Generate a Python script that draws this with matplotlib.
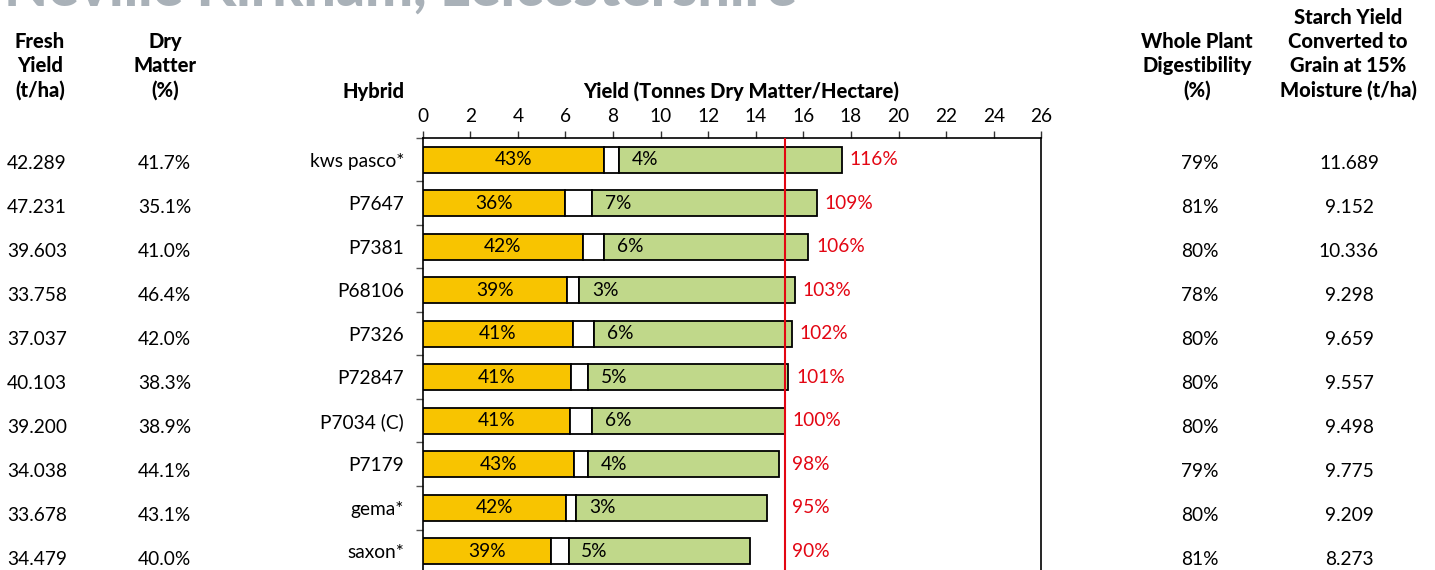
import matplotlib.pyplot as plt
import matplotlib.transforms as mtransforms

plt.rcParams['font.family'] = ['Lato', 'DejaVu Sans']

hybrids = ["kws pasco*", "P7647", "P7381", "P68106", "P7326",
           "P72847", "P7034 (C)", "P7179", "gema*", "saxon*"]
fresh_yield = ["42.289", "47.231", "39.603", "33.758", "37.037",
               "40.103", "39.200", "34.038", "33.678", "34.479"]
dry_matter = ["41.7%", "35.1%", "41.0%", "46.4%", "42.0%",
              "38.3%", "38.9%", "44.1%", "43.1%", "40.0%"]
digestibility = ["79%", "81%", "80%", "78%", "80%", "80%", "80%", "79%", "80%", "81%"]
starch_grain = ["11.689", "9.152", "10.336", "9.298", "9.659",
                "9.557", "9.498", "9.775", "9.209", "8.273"]

# bar segments (t DM/ha)
yellow_part = [7.61, 5.97, 6.73, 6.06, 6.31, 6.24, 6.19, 6.38, 6.01, 5.40]
white_part = [0.64, 1.15, 0.91, 0.53, 0.89, 0.71, 0.94, 0.56, 0.45, 0.73]
total_yield = [17.61, 16.56, 16.21, 15.65, 15.53, 15.37, 15.22, 14.98, 14.49, 13.76]
yellow_pct = ["43%", "36%", "42%", "39%", "41%", "41%", "41%", "43%", "42%", "39%"]
white_pct = ["4%", "7%", "6%", "3%", "6%", "5%", "6%", "4%", "3%", "5%"]
rel_yield = ["116%", "109%", "106%", "103%", "102%", "101%", "100%", "98%", "95%", "90%"]
control_yield = 15.22

W, H = 1435, 570
fig = plt.figure(figsize=(W / 100, H / 100), dpi=100)

# frame top at 138 px, runs just past the bottom edge
ax = fig.add_axes([422.7 / W, -3 / H, 618.6 / W, (H - 138 + 3) / H])

yellow_c = "#F8C400"
green_c = "#C0D88A"
red_c = "#E30613"
fs = 13.8

ys = list(range(len(hybrids)))
green_part = [t - a - b for t, a, b in zip(total_yield, yellow_part, white_part)]
white_left = [a + b for a, b in zip(yellow_part, white_part)]

ax.barh(ys, yellow_part, height=0.6, color=yellow_c, edgecolor="black", linewidth=1.3, zorder=3)
ax.barh(ys, white_part, left=yellow_part, height=0.6, color="white", edgecolor="black", linewidth=1.3, zorder=3)
ax.barh(ys, green_part, left=white_left, height=0.6, color=green_c, edgecolor="black", linewidth=1.3, zorder=3)
ax.axvline(control_yield, color=red_c, linewidth=1.5, zorder=4)

for i in ys:
    ax.text(yellow_part[i] / 2, i, yellow_pct[i], ha="center", va="center", fontsize=fs, zorder=5)
    ax.annotate(white_pct[i], (white_left[i], i), xytext=(9, 0), textcoords="offset points",
                ha="left", va="center", fontsize=fs, zorder=5)
    ax.annotate(rel_yield[i], (max(total_yield[i], control_yield), i), xytext=(5.5, 0),
                textcoords="offset points", ha="left", va="center", fontsize=fs, color=red_c)

ax.set_xlim(0, 26)
ax.set_ylim(len(hybrids) - 0.5, -0.5)
ax.set_xticks(range(0, 27, 2))
ax.xaxis.tick_top()
ax.tick_params(axis="x", length=5, width=1, pad=4, labelsize=fs, color="#333333")
ax.set_yticks(ys)
ax.set_yticklabels(hybrids, fontsize=fs)
ax.tick_params(axis="y", which="major", length=0, pad=13.5)
ax.set_yticks([y + 0.5 for y in range(-1, len(hybrids))], minor=True)
ax.tick_params(axis="y", which="minor", length=5, width=1, color="#555555")
ax.spines["bottom"].set_visible(False)
for s in ["left", "right", "top"]:
    ax.spines[s].set_linewidth(1.2)

# table columns beside the chart
trans = mtransforms.blended_transform_factory(fig.transFigure, ax.transData)
for i in ys:
    y = i + 0.08 + i * 0.012
    fig.text(7 / W, y, fresh_yield[i], transform=trans, ha="left", va="center", fontsize=fs)
    fig.text(138 / W, y, dry_matter[i], transform=trans, ha="left", va="center", fontsize=fs)
    fig.text(1181 / W, y, digestibility[i], transform=trans, ha="left", va="center", fontsize=fs)
    fig.text(1349 / W, y, starch_grain[i], transform=trans, ha="center", va="center", fontsize=fs)

hdr = dict(fontsize=14.5, fontweight="black", va="center", linespacing=1.3)
fig.text(40 / W, 1 - 66 / H, "Fresh\nYield\n(t/ha)", ha="center", **hdr)
fig.text(165 / W, 1 - 66 / H, "Dry\nMatter\n(%)", ha="center", **hdr)
fig.text(404 / W, 1 - 91 / H, "Hybrid", ha="right", **hdr)
fig.text(741 / W, 1 - 91 / H, "Yield (Tonnes Dry Matter/Hectare)", ha="center", **hdr)
fig.text(1197 / W, 1 - 66 / H, "Whole Plant\nDigestibility\n(%)", ha="center", **hdr)
fig.text(1348 / W, 1 - 54 / H, "Starch Yield\nConverted to\nGrain at 15%\nMoisture (t/ha)", ha="center", **hdr)

# title sits mostly above the top edge, as in the original crop
fig.text(4 / W, 1 - 6 / H, "Neville Kirkham, Leicestershire", ha="left", va="baseline",
         fontsize=41, fontweight="black", color="#A9B1B8")

fig.savefig("out.png", dpi=100)
